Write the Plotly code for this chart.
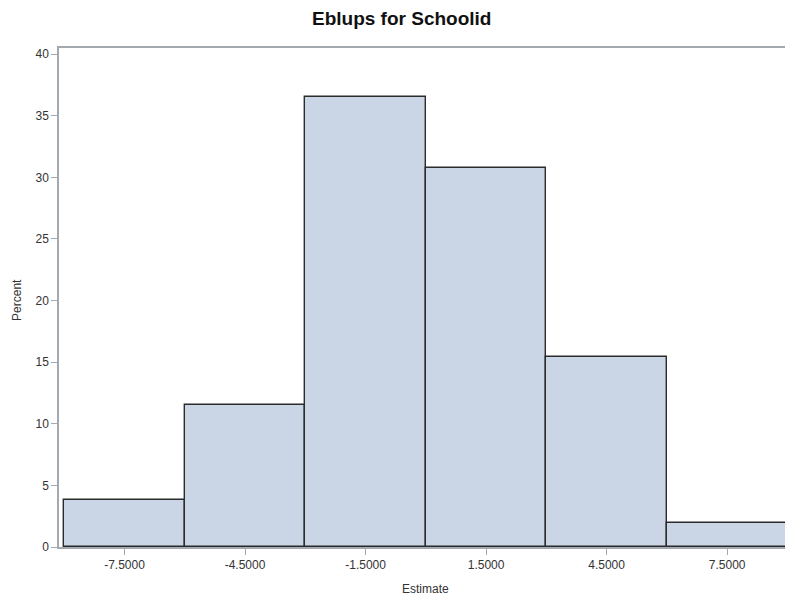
import plotly.graph_objects as go

# Histogram of school-level EBLUP estimates (bin midpoints, width 3)
midpoints = [-7.5, -4.5, -1.5, 1.5, 4.5, 7.5]
percent = [3.846, 11.538, 36.538, 30.769, 15.385, 1.923]
bin_width = 3.0
x_ticks = [-7.5, -4.5, -1.5, 1.5, 4.5, 7.5]
x_tick_labels = ["-7.5000", "-4.5000", "-1.5000", "1.5000", "4.5000", "7.5000"]
y_ticks = [0, 5, 10, 15, 20, 25, 30, 35, 40]

W, H = 785, 597
ML, MR, MT, MB = 58.5, 0, 47.5, 50.3

fig = go.Figure()
fig.add_trace(go.Bar(
    x=midpoints, y=percent, width=[bin_width] * len(midpoints),
    marker=dict(color="#CAD5E5", line=dict(color="#2B2B2B", width=1.4)),
    hoverinfo="x+y",
))

axis_color = "#A3AAAF"
tick_font = dict(family="Liberation Sans, Arial, sans-serif", size=12, color="#333333")

fig.update_layout(
    width=W, height=H,
    margin=dict(l=ML, r=MR, t=MT, b=MB, pad=0),
    paper_bgcolor="white", plot_bgcolor="white",
    showlegend=False, bargap=0,
    xaxis=dict(
        range=[-9.13, 8.94], tickvals=x_ticks, ticktext=x_tick_labels,
        showgrid=False, zeroline=False, showline=True, linecolor=axis_color,
        linewidth=1.5, mirror=True, ticks="outside", ticklen=6,
        tickcolor=axis_color, tickwidth=1, tickfont=tick_font,
    ),
    yaxis=dict(
        range=[0, 40.5], tickvals=y_ticks,
        showgrid=False, zeroline=False, showline=True, linecolor=axis_color,
        linewidth=1.5, ticks="outside", ticklen=6,
        tickcolor=axis_color, tickwidth=1, tickfont=tick_font,
    ),
    annotations=[
        dict(text="<b>Eblups for Schoolid</b>", xref="paper", yref="paper",
             x=(401.5 - ML) / (W - ML - MR), y=1 + (MT - 17.5) / (H - MT - MB),
             xanchor="center", yanchor="middle", showarrow=False,
             font=dict(family="Liberation Sans, Arial, sans-serif", size=19, color="#111111")),
        dict(text="Estimate", xref="paper", yref="paper",
             x=(425.5 - ML) / (W - ML - MR), y=-(589 - (H - MB)) / (H - MT - MB),
             xanchor="center", yanchor="middle", showarrow=False,
             font=dict(family="Liberation Sans, Arial, sans-serif", size=12, color="#333333")),
        dict(text="Percent", xref="paper", yref="paper", textangle=-90,
             x=-(ML - 17) / (W - ML - MR), y=(H - MB - 300) / (H - MT - MB),
             xanchor="center", yanchor="middle", showarrow=False,
             font=dict(family="Liberation Sans, Arial, sans-serif", size=12, color="#333333")),
    ],
)

fig.write_html("out.html")
